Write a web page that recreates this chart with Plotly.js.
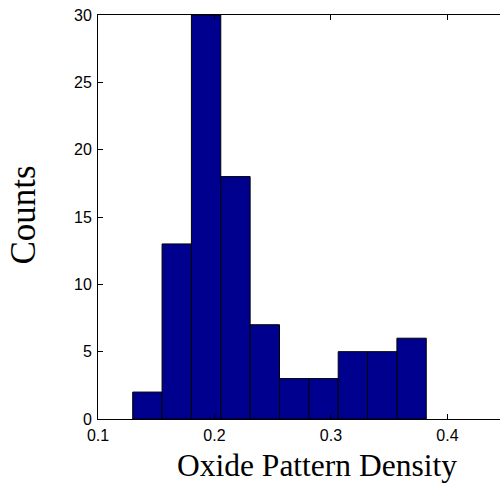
<!DOCTYPE html>
<html>
<head>
<meta charset="utf-8">
<script src="https://cdn.plot.ly/plotly-3.0.1.min.js"></script>
<style>html,body{margin:0;padding:0;background:#fff;}#chart{width:500px;height:487px;}</style>
</head>
<body>
<div id="chart"></div>
<script>
const binCenters = [0.1424, 0.1676, 0.1928, 0.2180, 0.2432, 0.2684, 0.2936, 0.3188, 0.3440, 0.3692];
const counts = [2, 13, 30, 18, 7, 3, 3, 5, 5, 6];
const binWidth = 0.0252;
const xTicks = [0.1, 0.2, 0.3, 0.4];
const xTickLabels = ['0.1', '0.2', '0.3', '0.4'];
const yTicks = [0, 5, 10, 15, 20, 25, 30];
const xTitle = 'Oxide Pattern Density';
const yTitle = 'Counts';

const trace = {
  type: 'bar',
  x: binCenters,
  y: counts,
  width: binCenters.map(() => binWidth),
  marker: {color: '#00008F', line: {color: '#000000', width: 1}},
  hoverinfo: 'x+y'
};

const layout = {
  width: 500, height: 487,
  margin: {l: 98, r: 0, t: 15, b: 68},
  paper_bgcolor: '#ffffff', plot_bgcolor: '#ffffff',
  showlegend: false,
  bargap: 0,
  xaxis: {
    range: [0.1, 0.4451],
    tickvals: xTicks, ticktext: xTickLabels,
    ticks: 'inside', ticklen: 5, tickcolor: '#000', tickwidth: 1,
    showline: true, linecolor: '#000', linewidth: 1, mirror: 'ticks',
    showgrid: false, zeroline: false,
    ticklabelstandoff: 2,
    tickfont: {family: 'Liberation Sans, Arial, sans-serif', size: 16, color: '#000'}
  },
  yaxis: {
    range: [0, 30],
    tickvals: yTicks,
    ticks: 'inside', ticklen: 5, tickcolor: '#000', tickwidth: 1,
    showline: true, linecolor: '#000', linewidth: 1, mirror: false,
    showgrid: false, zeroline: false,
    ticklabelstandoff: 2,
    tickfont: {family: 'Liberation Sans, Arial, sans-serif', size: 16, color: '#000'}
  },
  annotations: [
    {text: xTitle, xref: 'paper', yref: 'paper', x: 0.545, y: -0.116, xanchor: 'center', yanchor: 'middle',
     showarrow: false, font: {family: 'Liberation Serif, Times New Roman, serif', size: 31.5, color: '#000'}},
    {text: yTitle, xref: 'paper', yref: 'paper', x: -0.185, y: 0.505, xanchor: 'center', yanchor: 'middle',
     textangle: -90, showarrow: false, font: {family: 'Liberation Serif, Times New Roman, serif', size: 35, color: '#000'}}
  ]
};

Plotly.newPlot('chart', [trace], layout, {displayModeBar: false, staticPlot: true});
</script>
</body>
</html>
